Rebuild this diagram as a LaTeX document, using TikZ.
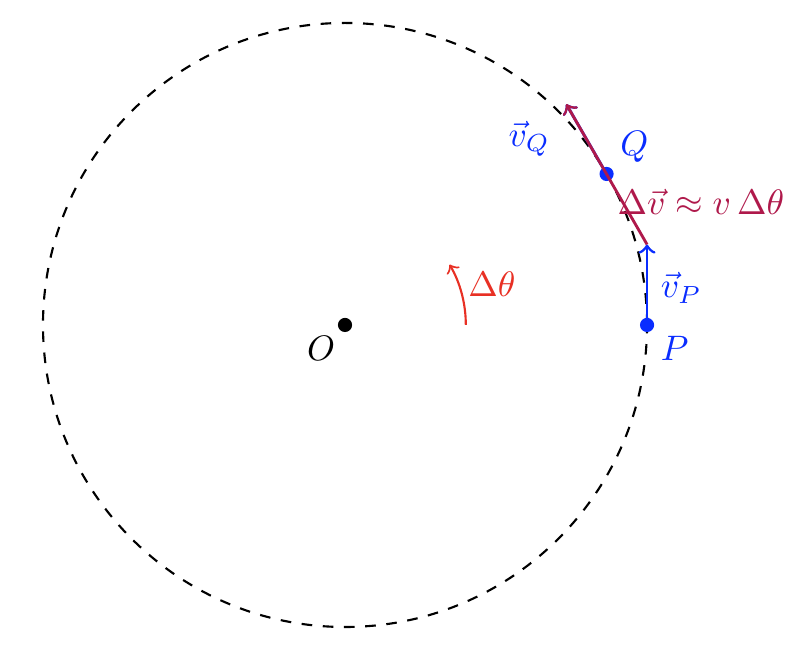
\documentclass[tikz,border=0pt]{standalone}
\usetikzlibrary{calc}
\definecolor{vblue}{RGB}{10,45,255}
\definecolor{vred}{RGB}{232,48,36}
\definecolor{vpurple}{RGB}{175,25,75}
\begin{document}
\begin{tikzpicture}[
  dot/.style={circle,fill,inner sep=0pt,minimum size=4pt},
  vec/.style={->,thick},
  lbl/.style={inner sep=2pt}
]
\useasboundingbox (-3.427,-3.228) rectangle (4.579,3.228);
\coordinate (O) at (0,0);
\draw[dashed,semithick] (O) circle (3);
\node[dot] (o) at (O) {};
\node[lbl,anchor=north east] at (-0.02,-0.04) {$O$};
\node[dot,vblue] (p) at (0:3) {};
\node[dot,vblue] (q) at (30:3) {};
\coordinate (pt) at ($(p)+(0,0.8)$);
\coordinate (qt) at ($(q)+(120:0.8)$);
\draw[vec,vblue] (p.center) -- (pt);
\draw[vec,vblue] (q.center) -- (qt);
\draw[vec,vpurple] (pt) -- (qt);
\node[lbl,vblue,anchor=north west] at ($(p)+(0.06,-0.04)$) {$P$};
\node[lbl,vblue,anchor=south west] at ($(q)+(0.06,0.04)$) {$Q$};
\node[lbl,vblue,anchor=west] at ($(p)+(0.06,0.37)$) {$\vec v_P$};
\node[lbl,vblue] at (1.83,1.85) {$\vec v_Q$};
\node[lbl,vpurple] at (3.535,1.22) {$\Delta\vec v \approx v\,\Delta\theta$};
\draw[->,semithick,vred] (0:1.2) arc[start angle=0,end angle=30,radius=1.2];
\node[lbl,vred] at (1.46,0.4) {$\Delta\theta$};
\end{tikzpicture}
\end{document}
